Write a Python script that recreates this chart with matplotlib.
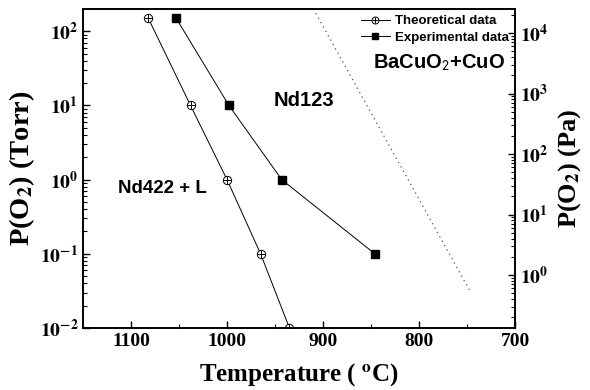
import math
import matplotlib
matplotlib.use('Agg')
import matplotlib.pyplot as plt
from matplotlib.ticker import FuncFormatter, LogLocator, MultipleLocator
from matplotlib.legend_handler import HandlerTuple
from matplotlib.lines import Line2D

plt.rcParams['mathtext.fontset'] = 'stix'
plt.rcParams['font.family'] = 'Liberation Serif'

# theoretical points (temperature in C, P(O2) in Torr)
theo_T = [1082, 1038, 1000, 965, 935]
theo_P = [150, 10, 1, 0.1, 0.01]
# experimental points
exp_T = [1053, 998, 943, 846]
exp_P = [150, 10, 1, 0.1]
# BaCuO2+CuO boundary (dotted)
bound_T = [910, 746]
bound_P = [200, 0.03]

fig = plt.figure(figsize=(5.9, 3.9), dpi=100)
ax = fig.add_axes([0.1407, 0.159, 0.7322, 0.818])

ax.plot(theo_T, theo_P, color='black', lw=0.7)
ax.plot(theo_T, theo_P, 'o', ms=6, mfc='white', mec='black', mew=0.7)
ax.plot(theo_T, theo_P, '+', ms=6, color='black', mew=0.7)
ax.plot(exp_T, exp_P, color='black', lw=0.7)
ax.plot(exp_T, exp_P, 's', ms=5.5, color='black')
ax.plot(bound_T, bound_P, color='#555555', lw=0.9, ls=(0, (1, 3)))

ax.set_xlim(1150, 700)
ax.set_ylim(0.01, 200)
ax.set_yscale('log')
ax.xaxis.set_major_locator(MultipleLocator(100))
ax.xaxis.set_minor_locator(MultipleLocator(50))

def powfmt(v, pos):
    e = int(round(math.log10(v)))
    return r'$\mathbf{10^{%d}}$' % e

ax.yaxis.set_major_locator(LogLocator(base=10, numticks=10))
ax.yaxis.set_major_formatter(FuncFormatter(powfmt))
ax.tick_params(which='both', direction='in', labelsize=14)
ax.tick_params(which='major', length=5, width=1)
ax.tick_params(which='minor', length=3, width=0.8)
for lab in ax.get_xticklabels():
    lab.set_fontweight('bold')
for s in ax.spines.values():
    s.set_linewidth(1.2)

ax.set_xlabel(r'Temperature ( $^{\mathbf{o}}$C)', fontsize=18, fontweight='bold', labelpad=8)
ax.set_ylabel(r'P(O$_{\mathbf{2}}$) (Torr)', fontsize=20.5, fontweight='bold', labelpad=2)

ax2 = ax.twinx()
ax2.set_yscale('log')
ax2.set_ylim(0.133, 2.5e4)
ax2.yaxis.set_major_locator(LogLocator(base=10, numticks=10))
ax2.yaxis.set_major_formatter(FuncFormatter(powfmt))
ax2.tick_params(which='both', direction='in', labelsize=14)
ax2.tick_params(which='major', length=5, width=1)
ax2.tick_params(which='minor', length=3, width=0.8)
ax2.set_ylabel(r'P(O$_{\mathbf{2}}$) (Pa)', fontsize=19, fontweight='bold', labelpad=6)
for s in ax2.spines.values():
    s.set_linewidth(1.2)

sans = 'Liberation Sans'
ax.text(951, 11.5, 'Nd123', family=sans, fontsize=14.5, fontweight='bold', ha='left', va='center')
ax.text(1114, 0.75, 'Nd422 + L', family=sans, fontsize=13.5, fontweight='bold', ha='left', va='center')
ax.text(848, 38, r'BaCuO$_{\mathsf{2}}$+CuO', family=sans, fontsize=14.5, fontweight='bold', ha='left', va='center')

th = (Line2D([], [], color='black', lw=0.7, marker='o', ms=5, mfc='white', mec='black', mew=0.7),
      Line2D([], [], color='black', lw=0, marker='+', ms=5, mew=0.7))
eh = Line2D([], [], color='black', lw=0.7, marker='s', ms=4.5)
ax2.legend([th, eh], ['Theoretical data', 'Experimental data'],
           handler_map={tuple: HandlerTuple(ndivide=1)},
           loc='upper right', frameon=False, prop={'family': sans, 'weight': 'bold', 'size': 9.5},
           handlelength=2.2, handletextpad=0.4, borderaxespad=0.05, labelspacing=0.35)

fig.savefig('out.png', dpi=100)
